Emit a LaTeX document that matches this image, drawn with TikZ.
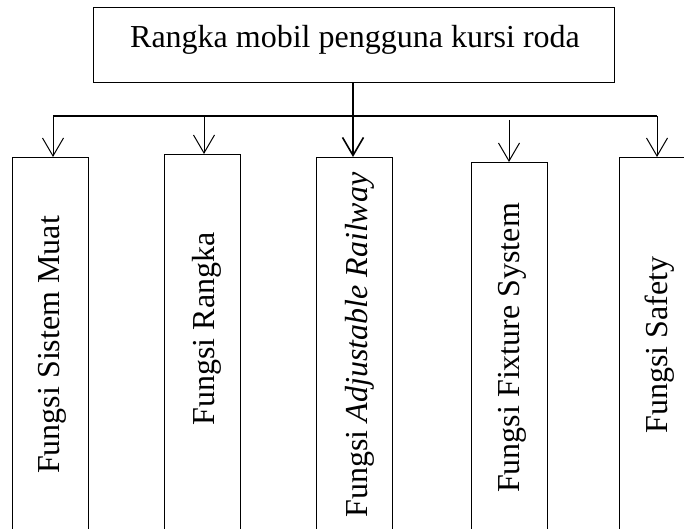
\documentclass[tikz,border=0pt]{standalone}
\usepackage{fontspec}
\setmainfont{Liberation Serif}
\usetikzlibrary{arrows.meta}

\tikzset{
  kotak/.style={draw, line width=1pt, minimum width=76pt, minimum height=400pt, anchor=north, inner sep=0pt},
  teks/.style={rotate=90, font=\fontsize{32}{38}\selectfont, inner sep=0pt},
  panah/.style={-{Straight Barb[length=18pt,width=21pt]}, line width=1pt},
}

\begin{document}
\begin{tikzpicture}[x=1pt,y=1pt]
  \clip (0,0) rectangle (684,529);
  % kotak utama
  \node[draw, line width=1pt, minimum width=521pt, minimum height=75pt, inner sep=0pt] (rangka) at (353.5,483.5) {};
  \node[font=\fontsize{32}{38}\selectfont, inner sep=0pt, anchor=base] (judul) at (355,481) {Rangka mobil pengguna kursi roda};
  % kotak fungsi
  \node[kotak] (muat)    at (50,372)  {};
  \node[kotak] (rangkaf) at (202.5,375) {};
  \node[kotak] (railway) at (354,372) {};
  \node[kotak] (fixture) at (509.5,367) {};
  \node[kotak] (safety)  at (657,372) {};
  \node[teks] (tmuat)    at (52,184)  {Fungsi Sistem Muat};
  \node[teks] (trangka)  at (207,200) {Fungsi Rangka};
  \node[teks] (trailway) at (360,184) {Fungsi \textit{Adjustable Railway}};
  \node[teks] (tfixture) at (512,181) {Fungsi Fixture System};
  \node[teks] (tsafety)  at (660,184) {Fungsi Safety};
  % percabangan
  \coordinate (h1) at (53,413);
  \coordinate (h2) at (204,413);
  \coordinate (h3) at (353,413);
  \coordinate (h4) at (509,409);
  \coordinate (h5) at (657,413);
  \draw[line width=2pt] (rangka.south -| h3) -- (h3);
  \draw[line width=2pt] (h1) -- (h5);
  \draw[panah] (h1) -- (h1 |- muat.north);
  \draw[panah] (h2) -- (h2 |- rangkaf.north);
  \draw[panah, line width=1.6pt] (h3) -- (h3 |- railway.north);
  \draw[panah] (h4) -- (h4 |- fixture.north);
  \draw[panah] (h5) -- (h5 |- safety.north);
\end{tikzpicture}
\end{document}
